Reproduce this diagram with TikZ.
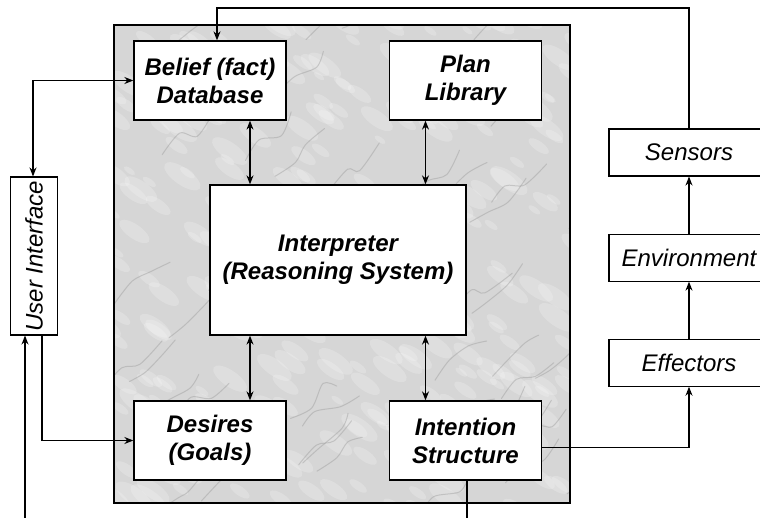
\documentclass[tikz,border=0pt]{standalone}
\usepackage{fontspec}
\setmainfont{Liberation Sans}
\usetikzlibrary{arrows.meta,positioning}
\tikzset{
  inbox/.style={draw, fill=white, line width=1.3pt, align=center, inner sep=0pt,
    minimum width=152pt, minimum height=79pt,
    font=\fontsize{24}{28}\selectfont\bfseries\itshape},
  outbox/.style={draw, fill=white, line width=1.1pt, inner sep=0pt,
    minimum width=160pt, minimum height=47pt,
    font=\fontsize{24}{28}\selectfont\itshape},
  link/.style={line width=1.2pt}
}
\begin{document}
\begin{tikzpicture}[x=1pt,y=-1pt,>={Stealth[length=9pt,width=7pt]}]
\useasboundingbox (0,0) rectangle (760,518);
% marble background of the agent
\begin{scope}
\clip (114,25) rectangle (570,503);
\fill[black!16] (114,25) rectangle (570,503);
\pgfmathsetseed{7}
\foreach \k in {1,...,320}{
  \pgfmathsetmacro\xa{342+240*rand}
  \pgfmathsetmacro\ya{264+250*rand}
  \pgfmathsetmacro\ra{6+16*rnd}
  \fill[white, opacity=.2, rotate around={-35:(\xa,\ya)}]
    (\xa,\ya) ellipse ({\ra pt} and {0.4*\ra pt});
}
\foreach \k in {1,...,60}{
  \pgfmathsetmacro\xa{342+240*rand}
  \pgfmathsetmacro\ya{264+250*rand}
  \draw[black!50, opacity=.3, line width=1pt, line cap=round]
    plot[smooth] coordinates {(\xa,\ya) (\xa+12+10*rnd,\ya-8-15*rnd)
      (\xa+30+10*rnd,\ya-15-20*rnd) (\xa+45+15*rnd,\ya-30-20*rnd)};
}
\end{scope}
\draw[line width=1.3pt] (114,25) rectangle (570,503);

% agent parts
\node[inbox] (belief) at (210,80.5) {Belief (fact)\\Database};
\node[inbox] (plan) at (465.5,80.5) {Plan\\Library};
\node[inbox, minimum width=256pt, minimum height=150pt] (interp) at (338,260)
  {Interpreter\\(Reasoning System)};
\node[inbox] (desires) at (210,440.5) {Desires\\(Goals)};
\node[inbox] (intent) at (465.5,440.5) {Intention\\Structure};

% outside
\node[draw, fill=white, line width=1.1pt, inner sep=0pt, minimum width=47pt,
  minimum height=158pt, font=\fontsize{24}{28}\selectfont\itshape] (ui) at (34,256)
  {\rotatebox{90}{User Interface}};
\node[outbox] (sensors) at (689,152.5) {Sensors};
\node[outbox, below=57pt of sensors] (environ) {Environment};
\node[outbox, below=57pt of environ] (effect) {Effectors};

\coordinate (feed) at (217,8);
\coordinate (userin) at (25,518);
\coordinate (intout) at (467,518);

\draw[link,<->] ([xshift=40pt]belief.south) -- ([xshift=40pt]belief.south |- interp.north);
\draw[link,<->] ([xshift=-40pt]plan.south) -- ([xshift=-40pt]plan.south |- interp.north);
\draw[link,<->] ([xshift=40pt]desires.north) -- ([xshift=40pt]desires.north |- interp.south);
\draw[link,<->] ([xshift=-40pt]intent.north) -- ([xshift=-40pt]intent.north |- interp.south);
\draw[link,<->] (belief.west) -| ([xshift=-1pt]ui.north);
\draw[link,->] ([xshift=8pt]ui.south) |- (desires.west);
\draw[link,->] (userin) -- (userin |- ui.south);
\draw[link] (intent.south -| intout) -- (intout);
\draw[link,->] ([yshift=-7pt]intent.east) -| (effect.south);
\draw[link,->] (effect) -- (environ);
\draw[link,->] (environ) -- (sensors);
\draw[link,->] (sensors.north) |- (feed) -- (feed |- belief.north);
\end{tikzpicture}
\end{document}
